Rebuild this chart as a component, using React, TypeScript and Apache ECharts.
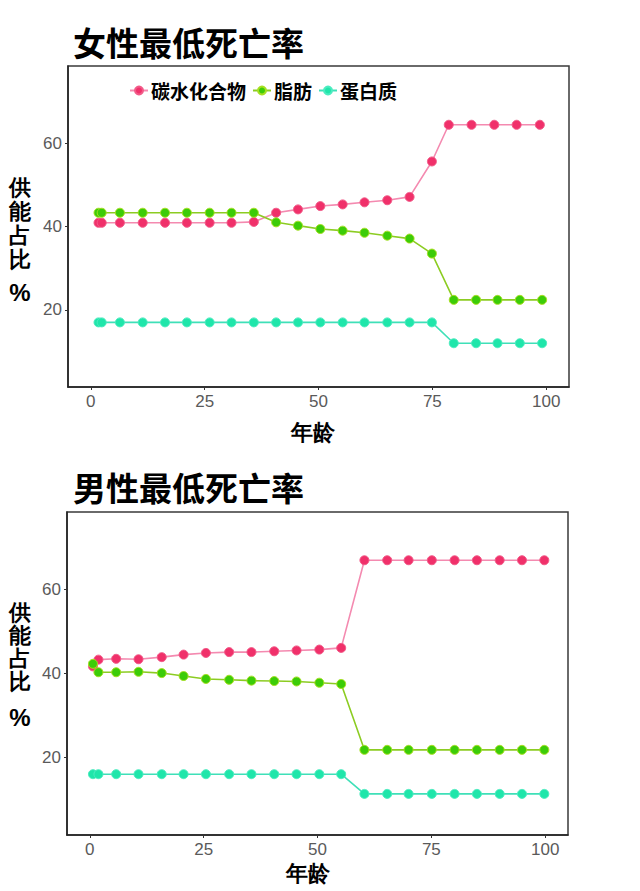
import React, { useEffect, useRef } from "react";
import * as echarts from "echarts";

const seriesNames = ["碳水化合物", "脂肪", "蛋白质"];
const xTicks = [0, 25, 50, 75, 100];
const yTicks = [20, 40, 60];

// 女性
const femaleAge = [1.7, 2.4, 6.4, 11.4, 16.3, 21.1, 26.1, 30.9, 35.8, 40.7, 45.5, 50.4, 55.3, 60.1, 65.1, 70, 74.9, 79.7, 84.6, 89.3, 94.2, 99.1];
const femaleCarbAge = [1.7, 2.4, 6.4, 11.4, 16.3, 21.1, 26.1, 30.9, 35.8, 40.7, 45.5, 50.4, 55.3, 60.1, 65.1, 70, 74.9, 78.6, 83.6, 88.6, 93.5, 98.6];
const femaleCarb = [40.9, 40.9, 40.9, 40.9, 40.9, 40.9, 40.9, 40.9, 41.1, 43.3, 44.1, 44.9, 45.3, 45.8, 46.3, 47.1, 55.6, 64.4, 64.4, 64.4, 64.4, 64.4];
const femaleFat = [43.3, 43.3, 43.3, 43.3, 43.3, 43.3, 43.3, 43.3, 43.3, 41.0, 40.2, 39.4, 39.0, 38.5, 37.8, 37.1, 33.5, 22.4, 22.4, 22.4, 22.4, 22.4];
const femaleProtein = [17.0, 17.0, 17.0, 17.0, 17.0, 17.0, 17.0, 17.0, 17.0, 17.0, 17.0, 17.0, 17.0, 17.0, 17.0, 17.0, 17.0, 12.0, 12.0, 12.0, 12.0, 12.0];
const femaleProteinAge = [1.7, 2.4, 6.4, 11.4, 16.3, 21.1, 26.1, 30.9, 35.8, 40.7, 45.5, 50.4, 55.3, 60.1, 65.1, 70, 74.9, 79.7, 84.6, 89.3, 94.2, 99.1];

// 男性
const maleAge = [0.7, 1.9, 5.8, 10.7, 15.8, 20.6, 25.5, 30.6, 35.5, 40.5, 45.4, 50.4, 55.2, 60.3, 65.3, 70.0, 75.1, 80.1, 85.0, 90.0, 94.9, 99.8];
const maleCarb = [41.7, 43.3, 43.5, 43.4, 43.9, 44.5, 44.9, 45.1, 45.1, 45.3, 45.5, 45.7, 46.1, 67.0, 67.0, 67.0, 67.0, 67.0, 67.0, 67.0, 67.0, 67.0];
const maleFat = [42.3, 40.3, 40.3, 40.4, 40.1, 39.4, 38.7, 38.5, 38.3, 38.2, 38.1, 37.8, 37.5, 21.8, 21.8, 21.8, 21.8, 21.8, 21.8, 21.8, 21.8, 21.8];
const maleProtein = [16.0, 16.0, 16.0, 16.0, 16.0, 16.0, 16.0, 16.0, 16.0, 16.0, 16.0, 16.0, 16.0, 11.3, 11.3, 11.3, 11.3, 11.3, 11.3, 11.3, 11.3, 11.3];

const markerColors = ["#f0306a", "#3ccc08", "#1fe6aa"];
const lineColors = ["#f48ab0", "#8ccc22", "#3fe0b8"];
const borderColors = ["#f25a88", "#a6e020", "#4cecc0"];

const pairs = (xs: number[], ys: number[]) => xs.map((x, i) => [x, ys[i]]);

const tickFont = "'Liberation Sans', Arial, sans-serif";
const cjkFont = "'Noto Sans CJK SC', sans-serif";

export default function App() {
  const ref = useRef<HTMLDivElement>(null);
  useEffect(() => {
    if (!ref.current) return;
    const chart = echarts.init(ref.current, null, { renderer: "svg" });

    const xAxisBase = (gridIndex: number) => ({
      type: "value",
      gridIndex,
      min: -5,
      max: 105,
      splitLine: { show: false },
      axisLine: { show: true, onZero: false, lineStyle: { color: "#222", width: 1.5 } },
      axisTick: { show: true, length: 3, customValues: xTicks, lineStyle: { color: "#333" } },
      axisLabel: { customValues: xTicks, color: "#5a5a5a", fontSize: 17, fontFamily: tickFont, margin: 6 },
    });
    const yAxisBase = (gridIndex: number) => ({
      type: "value",
      gridIndex,
      min: 1.5,
      max: 78.5,
      splitLine: { show: false },
      axisLine: { show: true, onZero: false, lineStyle: { color: "#222", width: 1.5 } },
      axisTick: { show: true, length: 3, customValues: yTicks, lineStyle: { color: "#333" } },
      axisLabel: { customValues: yTicks, color: "#5a5a5a", fontSize: 17, fontFamily: tickFont, margin: 6 },
    });

    const mk = (idx: number, name: string, data: number[][], axis: number) => ({
      type: "line",
      name,
      xAxisIndex: axis,
      yAxisIndex: axis,
      data,
      symbol: "circle",
      symbolSize: 9,
      showSymbol: true,
      itemStyle: { color: markerColors[idx], borderColor: borderColors[idx], borderWidth: 1 },
      lineStyle: { color: lineColors[idx], width: 1.6 },
      z: 2 + idx,
    });

    const titleStyle = { fontSize: 33, fontWeight: "bold", color: "#000", fontFamily: cjkFont };

    chart.setOption({
      animation: false,
      backgroundColor: "#ffffff",
      title: [
        { text: "女性最低死亡率", left: 68, top: 20, textStyle: titleStyle },
        { text: "男性最低死亡率", left: 68, top: 465, textStyle: titleStyle },
      ],
      legend: {
        data: seriesNames,
        left: 124,
        top: 76,
        itemWidth: 18,
        itemHeight: 10,
        itemGap: 6,
        textStyle: { fontSize: 19, fontWeight: "bold", color: "#000", fontFamily: cjkFont, padding: [0, 0, 0, -2] },
      },
      grid: [
        { left: 68, top: 66, width: 501, height: 321, show: true, borderColor: "#3a3a3a", borderWidth: 1.5, backgroundColor: "#fff" },
        { left: 67, top: 512, width: 501, height: 323, show: true, borderColor: "#3a3a3a", borderWidth: 1.5, backgroundColor: "#fff" },
      ],
      xAxis: [xAxisBase(0), xAxisBase(1)],
      yAxis: [yAxisBase(0), yAxisBase(1)],
      series: [
        mk(0, seriesNames[0], pairs(femaleCarbAge, femaleCarb), 0),
        mk(1, seriesNames[1], pairs(femaleAge, femaleFat), 0),
        mk(2, seriesNames[2], pairs(femaleProteinAge, femaleProtein), 0),
        mk(0, seriesNames[0], pairs(maleAge, maleCarb), 1),
        mk(1, seriesNames[1], pairs(maleAge, maleFat), 1),
        mk(2, seriesNames[2], pairs(maleAge, maleProtein), 1),
      ],
      graphic: [
        { type: "text", x: 313, y: 432, style: { text: "年龄", fontSize: 22, fontWeight: "bold", fill: "#000", font: `bold 22px ${cjkFont}`, align: "center", verticalAlign: "middle" } },
        { type: "text", x: 308, y: 873, style: { text: "年龄", fontSize: 22, fontWeight: "bold", fill: "#000", font: `bold 22px ${cjkFont}`, align: "center", verticalAlign: "middle" } },
        { type: "text", x: 20, y: 223, style: { text: "供\n能\n占\n比", lineHeight: 24, fontSize: 22, fontWeight: "bold", fill: "#000", font: `bold 22px ${cjkFont}`, align: "center", verticalAlign: "middle" } },
        { type: "text", x: 20, y: 292, style: { text: "%", fontSize: 24, fontWeight: "bold", fill: "#000", font: `bold 24px ${cjkFont}`, align: "center", verticalAlign: "middle" } },
        { type: "text", x: 20, y: 647, style: { text: "供\n能\n占\n比", lineHeight: 23, fontSize: 22, fontWeight: "bold", fill: "#000", font: `bold 22px ${cjkFont}`, align: "center", verticalAlign: "middle" } },
        { type: "text", x: 20, y: 717, style: { text: "%", fontSize: 24, fontWeight: "bold", fill: "#000", font: `bold 24px ${cjkFont}`, align: "center", verticalAlign: "middle" } },
      ],
    });
    return () => chart.dispose();
  }, []);
  return <div ref={ref} style={{ position: "absolute", left: 0, top: 0, width: 640, height: 891 }} />;
}
